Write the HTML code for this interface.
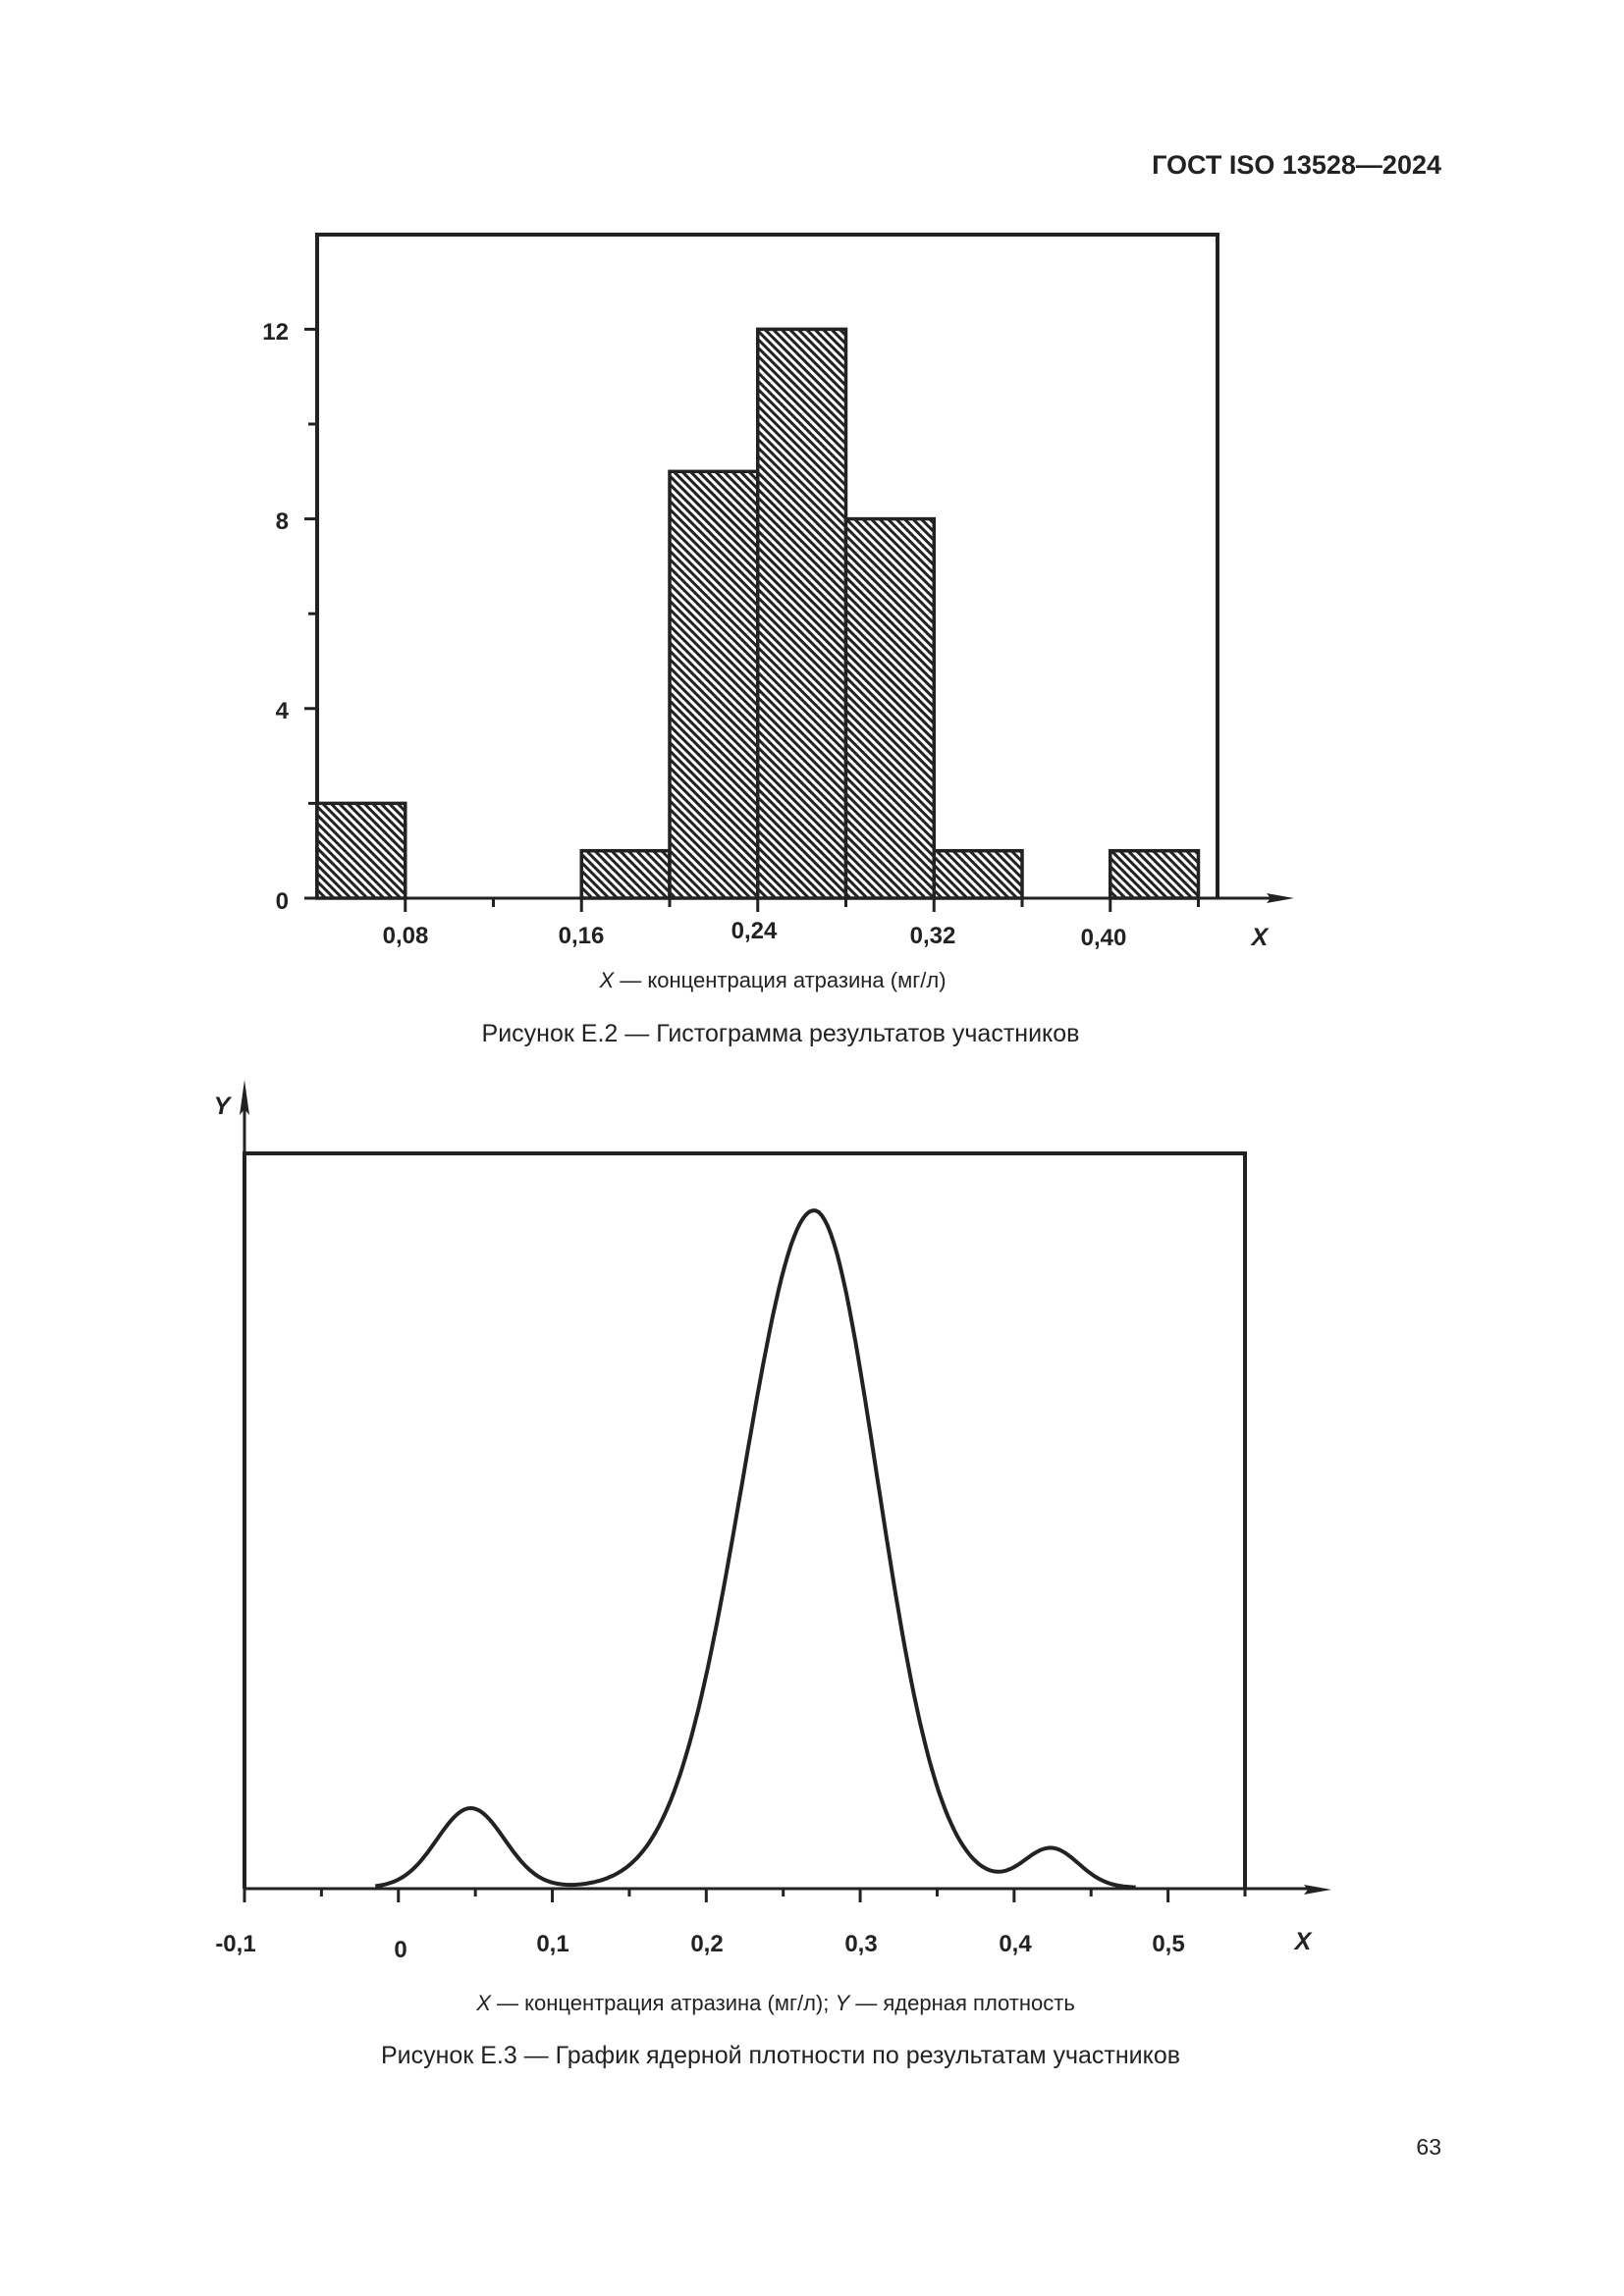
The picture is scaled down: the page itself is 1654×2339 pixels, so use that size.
<!DOCTYPE html>
<html><head><meta charset="utf-8">
<style>
html,body{margin:0;padding:0;background:#fff;}
body{width:1654px;height:2339px;position:relative;overflow:hidden;font-family:"Liberation Sans",sans-serif;color:#222;}
.t{position:absolute;white-space:nowrap;}
</style></head><body>
<div class="t" style="right:186px;top:153px;font-size:27px;font-weight:bold;">ГОСТ ISO 13528—2024</div>
<svg width="1654" height="2339" style="position:absolute;left:0;top:0" xmlns="http://www.w3.org/2000/svg">
<defs>
<pattern id="h" patternUnits="userSpaceOnUse" width="6" height="6" patternTransform="rotate(-45)">
<rect width="6" height="6" fill="#fff"/><rect x="0" y="0" width="3" height="6" fill="#222"/>
</pattern>
</defs>
<g stroke="#222" fill="none" stroke-width="4">
<polyline points="323,915 323,239 1240,239 1240,915"/>
</g>
<g stroke="#222" stroke-width="3.5" fill="url(#h)">
<rect x="323" y="818.4" width="89.75" height="96.6"/>
<rect x="592.25" y="866.7" width="89.75" height="48.3"/>
<rect x="682" y="480.3" width="89.75" height="434.7"/>
<rect x="771.75" y="335.4" width="89.75" height="579.6"/>
<rect x="861.5" y="528.6" width="89.75" height="386.4"/>
<rect x="951.25" y="866.7" width="89.75" height="48.3"/>
<rect x="1130.75" y="866.7" width="89.75" height="48.3"/>
</g>
<g stroke="#222" stroke-width="3">
<line x1="310" y1="915" x2="1300" y2="915"/>
<line x1="310" y1="335.4" x2="323" y2="335.4"/>
<line x1="314" y1="432" x2="323" y2="432"/>
<line x1="310" y1="528.6" x2="323" y2="528.6"/>
<line x1="314" y1="625.2" x2="323" y2="625.2"/>
<line x1="310" y1="721.8" x2="323" y2="721.8"/>
<line x1="314" y1="818.4" x2="323" y2="818.4"/>
<line x1="412.75" y1="915" x2="412.75" y2="929"/>
<line x1="502.5" y1="915" x2="502.5" y2="924"/>
<line x1="592.25" y1="915" x2="592.25" y2="929"/>
<line x1="682" y1="915" x2="682" y2="924"/>
<line x1="771.75" y1="915" x2="771.75" y2="929"/>
<line x1="861.5" y1="915" x2="861.5" y2="924"/>
<line x1="951.25" y1="915" x2="951.25" y2="929"/>
<line x1="1041" y1="915" x2="1041" y2="924"/>
<line x1="1130.75" y1="915" x2="1130.75" y2="929"/>
<line x1="1220.5" y1="915" x2="1220.5" y2="924"/>
</g>
<polygon points="1318,915 1290,910 1294,915 1290,920" fill="#222"/>
<g font-family="Liberation Sans, sans-serif" font-weight="bold" font-size="24" fill="#222">
<text x="294" y="346" text-anchor="end">12</text>
<text x="294" y="539" text-anchor="end">8</text>
<text x="294" y="732" text-anchor="end">4</text>
<text x="294" y="926" text-anchor="end">0</text>
<text x="413" y="961" text-anchor="middle">0,08</text>
<text x="592" y="961" text-anchor="middle">0,16</text>
<text x="768" y="956" text-anchor="middle">0,24</text>
<text x="950" y="961" text-anchor="middle">0,32</text>
<text x="1124" y="963" text-anchor="middle">0,40</text>
<text x="1283" y="963" text-anchor="middle" font-style="italic" font-size="25">X</text>
</g>
<g stroke="#222" fill="none" stroke-width="4">
<polyline points="249,1924 249,1175 1268,1175 1268,1924"/>
</g>
<g stroke="#222" stroke-width="3">
<line x1="249" y1="1110" x2="249" y2="1175"/>
<line x1="249" y1="1924" x2="1335" y2="1924"/>
</g>
<polygon points="249,1100 244,1136 249,1130 254,1136" fill="#222"/>
<polygon points="1356,1925 1328,1920 1332,1925 1328,1930" fill="#222"/>
<g id="ticks2" stroke="#222" stroke-width="3"></g>
<path id="curve" stroke="#222" stroke-width="4" fill="none" d=""/>
<g font-family="Liberation Sans, sans-serif" font-weight="bold" font-size="24" fill="#222">
<text x="240" y="1988" text-anchor="middle">-0,1</text>
<text x="408" y="1994" text-anchor="middle">0</text>
<text x="563" y="1988" text-anchor="middle">0,1</text>
<text x="720" y="1988" text-anchor="middle">0,2</text>
<text x="877" y="1988" text-anchor="middle">0,3</text>
<text x="1034" y="1988" text-anchor="middle">0,4</text>
<text x="1190" y="1988" text-anchor="middle">0,5</text>
<text x="1327" y="1986" text-anchor="middle" font-style="italic" font-size="25">X</text>
<text x="226" y="1135" text-anchor="middle" font-style="italic" font-size="25">Y</text>
</g>
</svg>
<div class="t" style="left:0;width:1574px;text-align:center;top:986px;font-size:22px;"><i>X</i> — концентрация атразина (мг/л)</div>
<div class="t" style="left:0;width:1590px;text-align:center;top:1039px;font-size:25px;">Рисунок Е.2 — Гистограмма результатов участников</div>
<div class="t" style="left:0;width:1580px;text-align:center;top:2028px;font-size:22px;"><i>X</i> — концентрация атразина (мг/л); <i>Y</i> — ядерная плотность</div>
<div class="t" style="left:0;width:1590px;text-align:center;top:2080px;font-size:25px;">Рисунок Е.3 — График ядерной плотности по результатам участников</div>
<div class="t" style="right:186px;top:2174px;font-size:23px;">63</div>
<script>
(function(){
var X=function(v){return 249+(v+0.1)*1567.7;};
var g=document.getElementById('ticks2'),s='';
for(var i=0;i<=13;i++){var v=-0.1+i*0.05;var x=X(v);var L=(i%2==0)?14:8;
s+='<line x1="'+x+'" y1="1924" x2="'+x+'" y2="'+(1924+L)+'"/>';}
g.innerHTML=s;
function f(v){
 var a=690*Math.exp(-Math.pow(v-0.27,2)/(2*Math.pow(v<0.27?0.046:0.041,2)));
 var b=81*Math.exp(-Math.pow(v-0.047,2)/(2*0.022*0.022));
 var c=40*Math.exp(-Math.pow(v-0.424,2)/(2*0.018*0.018));
 return a+b+c;}
var d='';
for(var v=-0.015;v<=0.4801;v+=0.002){d+=(d?'L':'M')+X(v).toFixed(1)+','+(1923-f(v)).toFixed(1);}
document.getElementById('curve').setAttribute('d',d);
})();
</script>
</body></html>
